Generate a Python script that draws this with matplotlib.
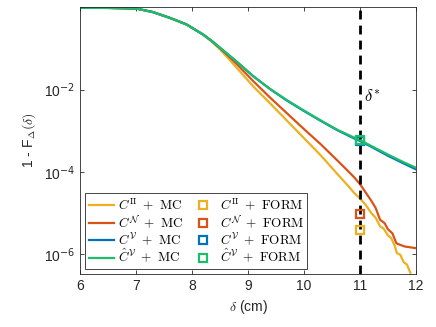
import numpy as np
import matplotlib
matplotlib.use("Agg")
import matplotlib.pyplot as plt
from matplotlib.ticker import NullLocator

plt.rcParams['font.family'] = ['Liberation Sans', 'DejaVu Sans']
plt.rcParams['mathtext.fontset'] = 'cm'

# exceedance curves, log10(1 - F)
x_smooth = [6.0, 6.5, 7.0, 7.3, 7.6, 7.9, 8.2]
log_smooth = [-0.005, -0.01, -0.024, -0.11, -0.25, -0.41, -0.66]

x_pi = [8.35, 8.5, 8.65, 8.8, 9.1, 9.4, 9.7, 10.0, 10.3, 10.6, 10.8, 10.9,
        11.0, 11.1, 11.2, 11.28, 11.36, 11.42, 11.5, 11.56, 11.62, 11.66,
        11.72, 11.78, 11.84, 11.9]
log_pi = [-0.825, -1.02, -1.24, -1.47, -1.93, -2.34, -2.76, -3.18, -3.6,
          -4.06, -4.36, -4.52, -4.65, -4.8, -5.0, -5.12, -5.33, -5.38, -5.55,
          -5.62, -5.8, -5.98, -6.02, -6.2, -6.26, -6.46]

x_n = [8.35, 8.5, 8.65, 8.8, 9.1, 9.4, 9.7, 10.0, 10.3, 10.6, 10.8, 10.9,
       11.0, 11.1, 11.2, 11.28, 11.36, 11.44, 11.5, 11.58, 11.65, 11.72,
       11.8, 11.9, 12.0]
log_n = [-0.815, -0.99, -1.18, -1.38, -1.8, -2.2, -2.58, -2.96, -3.33, -3.73,
         -4.0, -4.14, -4.3, -4.5, -4.7, -4.88, -5.17, -5.25, -5.4, -5.5,
         -5.74, -5.78, -5.82, -5.84, -5.86]

x_v = [8.35, 8.5, 8.65, 8.8, 9.1, 9.4, 9.7, 10.0, 10.3, 10.6, 10.9, 11.0,
       11.2, 11.5, 11.8, 12.0]
log_v = [-0.81, -0.98, -1.15, -1.32, -1.68, -1.99, -2.27, -2.52, -2.76,
         -2.99, -3.19, -3.25, -3.39, -3.61, -3.81, -3.94]
log_vhat = [-0.81, -0.98, -1.15, -1.32, -1.68, -1.99, -2.26, -2.51, -2.75,
            -2.98, -3.17, -3.23, -3.37, -3.58, -3.78, -3.9]

# FORM estimates at delta* = 11 cm
delta_star = 11.0
form_pi = 3.8e-6
form_n = 9.5e-6
form_v = 5.6e-4
form_vhat = 5.9e-4

colors = ['#EDB120', '#D95319', '#0072BD', '#1DBE6A']
labels = [r'C^{\mathrm{II}}', r'C^{\mathcal{N}}', r'C^{\mathcal{V}}',
          r'\hat{C}^{\mathcal{V}}']

fig = plt.figure(figsize=(4.36, 3.27), dpi=100)
ax = fig.add_axes([0.1835, 0.162, 0.7705, 0.8166])

curves = [(x_pi, log_pi), (x_n, log_n), (x_v, log_v), (x_v, log_vhat)]
for (xs, ls), c, lab in zip(curves, colors, labels):
    xx = np.array(x_smooth + xs)
    yy = 10.0 ** np.array(log_smooth + ls)
    ax.plot(xx, yy, color=c, lw=1.6, label='$' + lab + r'\ +\ \mathrm{MC}$')

ax.axvline(delta_star, color='black', lw=2, ls=(0, (3.2, 2.2)), zorder=3)

forms = [form_pi, form_n, form_v, form_vhat]
for f, c, lab in zip(forms, colors, labels):
    ax.plot([delta_star], [f], ls='none', marker='s', ms=6, mfc='none',
            mec=c, mew=1.6, label='$' + lab + r'\ +\ \mathrm{FORM}$',
            zorder=4)

ax.text(11.07, 10 ** -2.3, r'$\delta^{*}$', fontsize=12)

ax.set_yscale('log')
ax.set_xlim(6, 12)
ax.set_ylim(10 ** -6.49, 1.03)
ax.set_xticks([6, 7, 8, 9, 10, 11, 12])
ax.set_yticks([1e-6, 1e-4, 1e-2])
ax.set_yticklabels(['10$^{-6}$', '10$^{-4}$', '10$^{-2}$'],
                   math_fontfamily='dejavusans')
ax.yaxis.set_minor_locator(NullLocator())
ax.tick_params(direction='in', top=True, right=True, labelsize=10,
               length=3, width=0.6, colors='#262626', labelcolor='#262626')
for s in ax.spines.values():
    s.set_color('#262626')
    s.set_linewidth(0.6)

ax.set_xlabel(r'$\delta$ (cm)', fontsize=10, color='#262626')
ax.set_ylabel(r'1 - F$_{\Delta}(\delta)$', fontsize=10, color='#262626')

leg = ax.legend(ncol=2, loc='lower left', fontsize=9.5, frameon=True,
                fancybox=False, edgecolor='#262626', framealpha=1,
                handlelength=1.9, handletextpad=0.3, columnspacing=0.6,
                labelspacing=0.0, borderpad=0.25, borderaxespad=0.4)
leg.get_frame().set_linewidth(0.6)

fig.savefig('out.png', dpi=100)
